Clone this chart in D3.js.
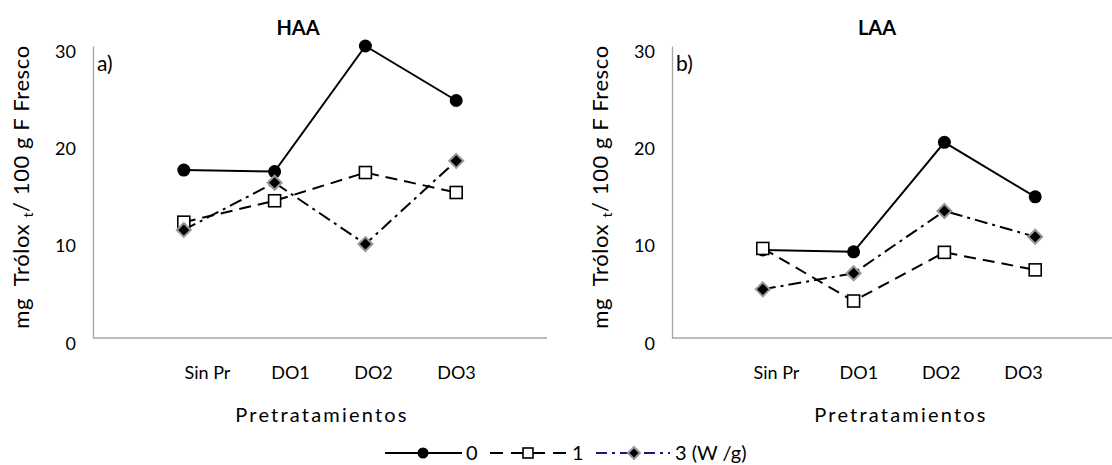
<!DOCTYPE html>
<html>
<head>
<meta charset="utf-8">
<script src="https://cdn.jsdelivr.net/npm/d3@7"></script>
<style>
  html, body { margin: 0; padding: 0; background: #fff; }
  svg { display: block; font-family: Lato, "Open Sans", sans-serif; }
</style>
</head>
<body>
<svg id="chart" width="1112" height="465"></svg>
<script>
// ---- data ----
const categories = ["Sin Pr", "DO1", "DO2", "DO3"];
const yTicks = [0, 10, 20, 30];
const seriesNames = ["0", "1", "3"];
const legendLabels = ["0", "1", "3 (W /g)"];
const haa0 = [17.25, 17.1, 30.0, 24.4];
const haa1 = [11.9, 14.1, 17.0, 14.95];
const haa3 = [11.1, 15.95, 9.65, 18.2];
const laa0 = [9.05, 8.85, 20.1, 14.5];
const laa1 = [9.2, 3.8, 8.8, 7.0];
const laa3 = [5.0, 6.65, 13.05, 10.4];
const panelTitles = ["HAA", "LAA"];
const panelTags = ["a)", "b)"];
const xTitle = "Pretratamientos";

// ---- layout ----
const svg = d3.select("#chart");
const W = 1112, H = 465;
const yTop = 46, yBot = 338;
const panels = [
  { title: panelTitles[0], tag: panelTags[0], ax: 93, lab: [114, 363], series: [haa0, haa1, haa3] },
  { title: panelTitles[1], tag: panelTags[1], ax: 672, lab: [104, 351], series: [laa0, laa1, laa3] }
];
const styles = [
  { dash: null, marker: "circle" },
  { dash: "12,7", marker: "square" },
  { dash: "13,5,3,5", marker: "diamond" }
];
const axisGrey = "#a6a6a6";

function drawMarker(g, type, cx, cy, legend) {
  if (type === "circle") {
    g.append("circle").attr("cx", cx).attr("cy", cy).attr("r", legend ? 5.5 : 6.5).attr("fill", "#000");
  } else if (type === "square") {
    const s = legend ? 10 : 12;
    g.append("rect").attr("x", cx - s / 2).attr("y", cy - s / 2).attr("width", s).attr("height", s)
      .attr("fill", "#fff").attr("stroke", "#000").attr("stroke-width", 1.6);
  } else {
    const r = legend ? 6 : 7;
    g.append("path")
      .attr("d", `M${cx},${cy - r}L${cx + r},${cy}L${cx},${cy + r}L${cx - r},${cy}Z`)
      .attr("fill", "#000").attr("stroke", "#999").attr("stroke-width", 2);
  }
}

svg.append("rect").attr("width", W).attr("height", H).attr("fill", "#fff");

const y = d3.scaleLinear().domain([0, 30]).range([yBot, yTop]);

panels.forEach(p => {
  const g = svg.append("g");
  const x = d3.scalePoint().domain(categories).range([p.ax, p.ax + 454]).padding(1);
  const lx = d3.scalePoint().domain(categories).range([p.ax + p.lab[0], p.ax + p.lab[1]]);

  // y axis
  const ya = g.append("g").attr("transform", `translate(${p.ax},0)`)
    .call(d3.axisLeft(y).tickValues(yTicks).tickSize(0).tickSizeOuter(0).tickPadding(17));
  ya.select(".domain").attr("stroke", axisGrey).attr("stroke-width", 1.3);
  ya.selectAll("text").attr("font-size", 18).attr("fill", "#000").attr("font-family", "Lato").attr("dy", "0.62em");

  // x axis line
  g.append("line").attr("x1", x.range()[0]).attr("x2", x.range()[1])
    .attr("y1", yBot).attr("y2", yBot).attr("stroke", axisGrey).attr("stroke-width", 1.3);

  // x tick labels
  const xa = g.append("g").attr("transform", `translate(0,${yBot})`)
    .call(d3.axisBottom(lx).tickSize(0).tickSizeOuter(0).tickPadding(28));
  xa.select(".domain").remove();
  xa.selectAll("text").attr("font-size", 18).attr("fill", "#000").attr("font-family", "Lato");

  // x title
  g.append("text").attr("x", p.ax + 229).attr("y", 422).attr("text-anchor", "middle")
    .attr("font-size", 20).attr("letter-spacing", "2.2px").text(xTitle);

  // y title
  const yt = g.append("text")
    .attr("transform", `translate(${p.ax - 64},${187}) rotate(-90)`)
    .attr("text-anchor", "middle").attr("font-size", 22).attr("letter-spacing", "0.6px");
  yt.append("tspan").text("mg\u00a0\u00a0Trólox ");
  yt.append("tspan").attr("font-size", 14).attr("dy", 4).text("t");
  yt.append("tspan").attr("dy", -4).text("/ 100 g F Fresco");

  // title
  g.append("text").attr("x", p.ax + 205).attr("y", 35).attr("text-anchor", "middle")
    .attr("font-size", 20).attr("font-weight", "bold").text(p.title);
  // tag
  g.append("text").attr("x", p.ax + 4).attr("y", 71).attr("font-size", 21).text(p.tag);

  // series
  const line = d3.line().x((d, i) => x(categories[i])).y(d => y(d));
  p.series.forEach((vals, si) => {
    g.append("path").datum(vals).attr("d", line).attr("fill", "none")
      .attr("stroke", "#000").attr("stroke-width", 2)
      .attr("stroke-dasharray", styles[si].dash);
  });
  p.series.forEach((vals, si) => {
    vals.forEach((v, i) => drawMarker(g, styles[si].marker, x(categories[i]), y(v), false));
  });
});

// ---- legend ----
const leg = svg.append("g");
const legY = 453;
const legItems = [
  { x1: 385, x2: 462, mx: 423, tx: 466, color: "#000", dash: null, marker: "circle" },
  { x1: 490, x2: 567, mx: 528, tx: 572, color: "#000", dash: "13,8", marker: "square" },
  { x1: 596, x2: 670, mx: 634, tx: 675, color: "#1a1a80", dash: "11,5,3,5", marker: "diamond" }
];
legItems.forEach((it, i) => {
  leg.append("line").attr("x1", it.x1).attr("x2", it.x2).attr("y1", legY).attr("y2", legY)
    .attr("stroke", it.color).attr("stroke-width", 2).attr("stroke-dasharray", it.dash);
  drawMarker(leg, it.marker, it.mx, legY, true);
  leg.append("text").attr("x", it.tx).attr("y", legY + 7).attr("font-size", 20).text(legendLabels[i]);
});
</script>
</body>
</html>
